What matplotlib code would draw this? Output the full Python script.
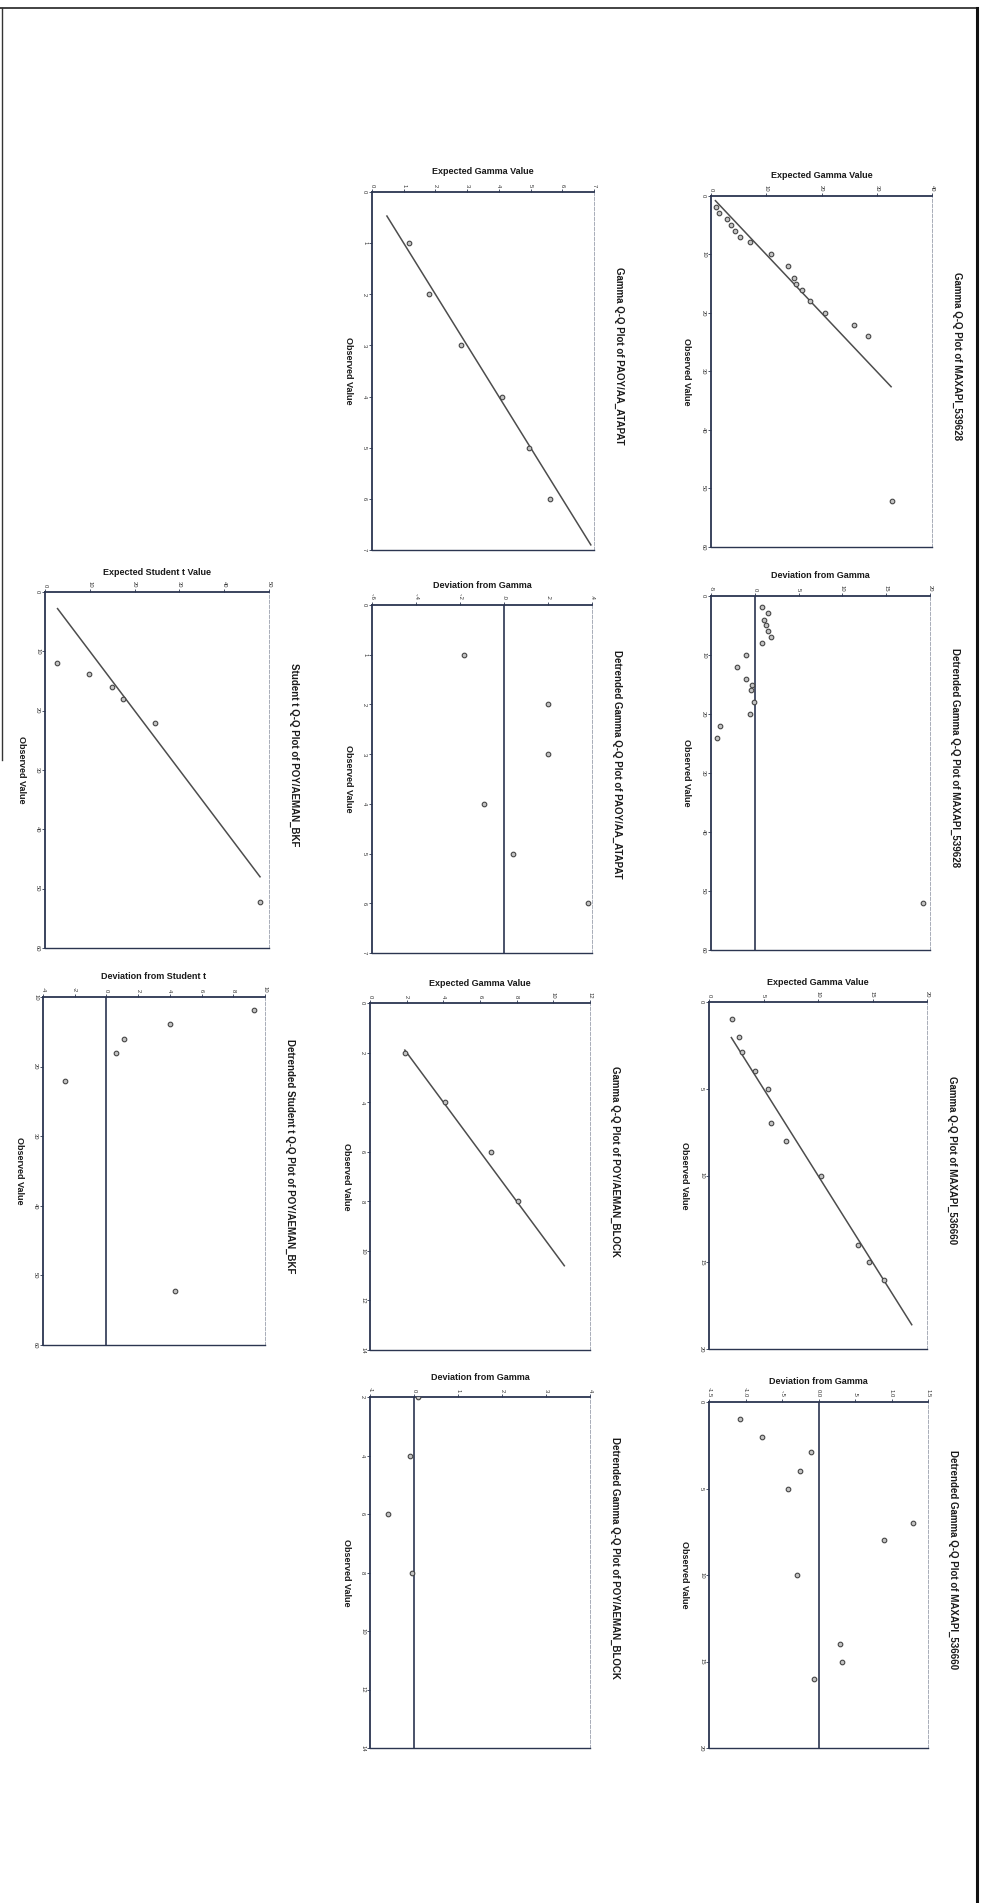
# Q-Q and detrended Q-Q plots (SPSS style page, turned on its side)
import numpy as np
import matplotlib
matplotlib.use('Agg')
import matplotlib.pyplot as plt

plt.rcParams['font.family'] = ['Liberation Sans', 'DejaVu Sans']

# MAXAPI_539628 - gamma
obs_539628 = [1.8, 2.9, 4.0, 4.9, 5.9, 7.0, 7.9, 10.0, 12.0, 14.1, 15.1, 16.0, 17.9, 20.0, 22.0, 24.0, 52.1]
exp_539628 = [0.95, 1.45, 2.9, 3.6, 4.4, 5.2, 7.05, 10.95, 14.0, 15.05, 15.4, 16.45, 17.95, 20.55, 25.95, 28.35, 32.85]
line_539628 = [0.8, 32.6]

# MAXAPI_536660 - gamma
obs_536660 = [1.0, 2.0, 2.9, 4.0, 5.0, 7.0, 8.0, 10.0, 14.0, 15.0, 16.0]
exp_536660 = [2.08, 2.77, 3.0, 4.25, 5.42, 5.71, 7.1, 10.29, 13.71, 14.68, 16.06]
line_536660 = [2.05, 18.6]

# PAOY/AA_ATAPAT - gamma
obs_atapat = [1, 2, 3, 4, 5, 6]
exp_atapat = [1.18, 1.80, 2.80, 4.09, 4.96, 5.62]
line_atapat = [0.47, 6.9]

# POY/AEMAN_BLOCK - gamma
obs_block = [2, 4, 6, 8]
exp_block = [1.9, 4.1, 6.6, 8.05]
line_block = [1.9, 10.6]

# POY/AEMAN_BKF - student t
obs_bkf = [11.9, 13.9, 16.0, 18.0, 22.0, 52.3]
exp_bkf = [2.6, 9.9, 14.9, 17.4, 24.6, 48.0]
line_bkf = [2.8, 48.0]

W, H = 985, 1903
fig = plt.figure(figsize=(W / 100, H / 100), dpi=100)

axis_col = '#2b3550'
txt_col = '#1a1a1a'


def fmt(t, step):
    if float(step).is_integer():
        return str(int(round(t)))
    s = '%.1f' % t
    if s.startswith('0.') and t != 0:
        s = s[1:]
    if s.startswith('-0.'):
        s = '-' + s[2:]
    return s


def make_axes(px, xlim, xstep, ylim, ystep, xlabel, title):
    x0, y0, x1, y1 = px
    ax = fig.add_axes([x0 / W, 1 - y1 / H, (x1 - x0) / W, (y1 - y0) / H])
    ax.set_xlim(xlim)
    ax.set_ylim(ylim[1], ylim[0])
    ax.xaxis.tick_top()
    xt = np.arange(xlim[0], xlim[1] + xstep / 2, xstep)
    yt = np.arange(ylim[0], ylim[1] + ystep / 2, ystep)
    ax.set_xticks(xt)
    ax.set_yticks(yt)
    ax.set_xticklabels([fmt(t, xstep) for t in xt], rotation=-90)
    ax.set_yticklabels([fmt(t, ystep) for t in yt], rotation=-90, va='center')
    ax.tick_params(labelsize=4.2, length=2.5, width=0.6, colors=axis_col, pad=1,
                   labelcolor='#333333')
    ax.spines['top'].set_color(axis_col)
    ax.spines['top'].set_linewidth(1.3)
    ax.spines['left'].set_color(axis_col)
    ax.spines['left'].set_linewidth(1.3)
    ax.spines['bottom'].set_color(axis_col)
    ax.spines['bottom'].set_linewidth(1.0)
    ax.spines['right'].set_color('#9aa0ad')
    ax.spines['right'].set_linewidth(0.6)
    ax.spines['right'].set_linestyle((0, (4, 2)))
    cx = (x0 + x1) / 2
    cy = (y0 + y1) / 2
    fig.text(cx / W, 1 - (y0 - 20) / H, xlabel, ha='center', va='center',
             fontsize=6.5, fontweight='bold', color=txt_col)
    fig.text((x0 - 24) / W, 1 - cy / H, 'Observed Value', ha='center', va='center',
             rotation=-90, fontsize=6.5, fontweight='bold', color=txt_col)
    fig.text((x1 + 25) / W, 1 - (cy - 15) / H, title, ha='center', va='center',
             rotation=-90, fontsize=7, fontweight='bold', color=txt_col)
    return ax


def qq(ax, obs, exp, line):
    ax.plot(line, line, color='#4d4d4d', lw=1.1, zorder=2)
    ax.scatter(exp, obs, s=11, facecolor='#c4c4c4', edgecolor='#454545', lw=0.8, zorder=3)


def detrended(ax, obs, exp):
    dev = np.array(obs) - np.array(exp)
    ax.axvline(0, color=axis_col, lw=1.2, zorder=2)
    ax.scatter(dev, obs, s=11, facecolor='#c4c4c4', edgecolor='#454545', lw=0.8, zorder=3)


# right column
ax = make_axes((711, 196, 932, 547), (0, 40), 10, (0, 60), 10,
               'Expected Gamma Value', 'Gamma Q-Q Plot of MAXAPI_539628')
qq(ax, obs_539628, exp_539628, line_539628)
ax = make_axes((711, 596, 930, 950), (-5, 20), 5, (0, 60), 10,
               'Deviation from Gamma', 'Detrended Gamma Q-Q Plot of MAXAPI_539628')
detrended(ax, obs_539628, exp_539628)
ax = make_axes((709, 1002, 927, 1349), (0, 20), 5, (0, 20), 5,
               'Expected Gamma Value', 'Gamma Q-Q Plot of MAXAPI_536660')
qq(ax, obs_536660, exp_536660, line_536660)
ax = make_axes((709, 1402, 928, 1748), (-1.5, 1.5), 0.5, (0, 20), 5,
               'Deviation from Gamma', 'Detrended Gamma Q-Q Plot of MAXAPI_536660')
detrended(ax, obs_536660, exp_536660)

# middle column
ax = make_axes((372, 192, 594, 550), (0, 7), 1, (0, 7), 1,
               'Expected Gamma Value', 'Gamma Q-Q Plot of PAOY/AA_ATAPAT')
qq(ax, obs_atapat, exp_atapat, line_atapat)
ax = make_axes((372, 605, 592, 953), (-0.6, 0.4), 0.2, (0, 7), 1,
               'Deviation from Gamma', 'Detrended Gamma Q-Q Plot of PAOY/AA_ATAPAT')
detrended(ax, obs_atapat, exp_atapat)
ax = make_axes((370, 1003, 590, 1350), (0, 12), 2, (0, 14), 2,
               'Expected Gamma Value', 'Gamma Q-Q Plot of POY/AEMAN_BLOCK')
qq(ax, obs_block, exp_block, line_block)
ax = make_axes((370, 1397, 590, 1748), (-1, 4), 1, (2, 14), 2,
               'Deviation from Gamma', 'Detrended Gamma Q-Q Plot of POY/AEMAN_BLOCK')
detrended(ax, obs_block, exp_block)

# left column
ax = make_axes((45, 592, 269, 948), (0, 50), 10, (0, 60), 10,
               'Expected Student t Value', 'Student t Q-Q Plot of POY/AEMAN_BKF')
qq(ax, obs_bkf, exp_bkf, line_bkf)
ax = make_axes((43, 997, 265, 1345), (-4, 10), 2, (10, 58), 10,
               'Deviation from Student t', 'Detrended Student t Q-Q Plot of POY/AEMAN_BKF')
detrended(ax, obs_bkf, exp_bkf)

# page frame of the scan
fig.add_artist(plt.Line2D([0, 977 / W], [1 - 8 / H, 1 - 8 / H], color='#222222', lw=1.2))
fig.add_artist(plt.Line2D([977 / W, 977 / W], [0, 1 - 8 / H], color='#111111', lw=2.2))
fig.add_artist(plt.Line2D([1.5 / W, 1.5 / W], [1 - 760 / H, 1 - 8 / H], color='#333333', lw=1.0))

fig.savefig('out.png', dpi=100, facecolor='white')
